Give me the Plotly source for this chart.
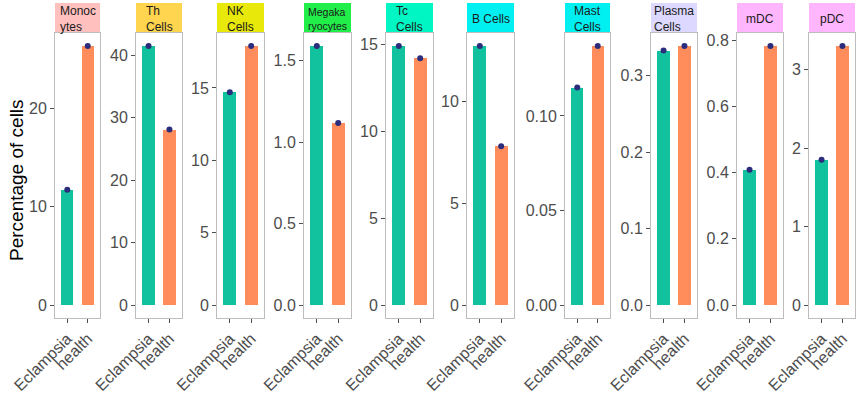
import plotly.graph_objects as go

# ---- data ----
cell_types = ["Monocytes", "Th Cells", "NK Cells", "Megakaryocytes", "Tc Cells",
              "B Cells", "Mast Cells", "Plasma Cells", "mDC", "pDC"]
strip_labels = ["Monoc<br>ytes", "Th<br>Cells", "NK<br>Cells", "Megaka<br>ryocytes", "Tc<br>Cells",
                "B Cells", "Mast<br>Cells", "Plasma<br>Cells", "mDC", "pDC"]
strip_colors = ["#FFC0BE", "#FFD54F", "#E8E80A", "#22EE4A", "#00F7C4",
                "#00F0F2", "#00F0F2", "#DCD8FF", "#FFB6FF", "#FFB6FF"]
groups = ["Eclampsia", "health"]
eclampsia = [11.7, 41.5, 14.7, 1.59, 14.9, 12.7, 0.115, 0.333, 0.409, 1.85]
health = [26.3, 28.1, 17.9, 1.117, 14.2, 7.78, 0.137, 0.339, 0.783, 3.30]
tick_vals = [[0, 10, 20], [0, 10, 20, 30, 40], [0, 5, 10, 15], [0, 0.5, 1.0, 1.5],
             [0, 5, 10, 15], [0, 5, 10], [0, 0.05, 0.10], [0, 0.1, 0.2, 0.3],
             [0, 0.2, 0.4, 0.6, 0.8], [0, 1, 2, 3]]
tick_text = [["0", "10", "20"], ["0", "10", "20", "30", "40"], ["0", "5", "10", "15"],
             ["0.0", "0.5", "1.0", "1.5"], ["0", "5", "10", "15"], ["0", "5", "10"],
             ["0.00", "0.05", "0.10"], ["0.0", "0.1", "0.2", "0.3"],
             ["0.0", "0.2", "0.4", "0.6", "0.8"], ["0", "1", "2", "3"]]

# ---- layout geometry (window pixels) ----
W, H = 858, 397
panel_px = [(55, 100), (136, 182), (217, 264), (304, 351), (386, 433),
            (467, 514), (565, 610), (651, 697), (737, 783), (809, 855)]
top_px, bot_px = 33, 318
strip_top = 3


def px_x(p):
    return p / W


def px_y(p):
    return 1 - p / H


bar_colors = ["#12C29E", "#FF8C5B"]
dot_color = "#2B2C7C"
font_fam = "Liberation Sans, Arial, sans-serif"

fig = go.Figure()
layout = dict(width=W, height=H, margin=dict(l=0, r=0, t=0, b=0, pad=0, autoexpand=False),
              paper_bgcolor="white", plot_bgcolor="white", showlegend=False,
              font=dict(family=font_fam), bargap=0)
shapes, annotations = [], []

for i, name in enumerate(cell_types):
    k = "" if i == 0 else str(i + 1)
    vals = [eclampsia[i], health[i]]
    M = max(vals)
    fig.add_trace(go.Bar(x=groups, y=vals, marker=dict(color=bar_colors, line=dict(width=0)),
                         width=0.6, xaxis="x" + k, yaxis="y" + k, hoverinfo="x+y"))
    fig.add_trace(go.Scatter(x=groups, y=vals, mode="markers",
                             marker=dict(color=dot_color, size=6),
                             xaxis="x" + k, yaxis="y" + k))
    x0, x1 = panel_px[i]
    layout["xaxis" + k] = dict(domain=[px_x(x0), px_x(x1)], anchor="y" + k, automargin=False,
                               range=[-0.6, 1.6], showgrid=False, zeroline=False,
                               showline=True, mirror=True, linecolor="#BDBDBD", linewidth=1,
                               ticks="outside", ticklen=4, tickcolor="#4D4D4D",
                               tickangle=-45, tickfont=dict(size=16, color="#4D4D4D"),
                               fixedrange=True)
    layout["yaxis" + k] = dict(domain=[px_y(bot_px), px_y(top_px)], anchor="x" + k,
                               automargin=False,
                               range=[-0.05 * M, 1.05 * M], showgrid=False, zeroline=False,
                               showline=True, mirror=True, linecolor="#BDBDBD", linewidth=1,
                               ticks="outside", ticklen=4, tickcolor="#4D4D4D",
                               tickvals=tick_vals[i], ticktext=tick_text[i],
                               tickfont=dict(size=16, color="#4D4D4D"), fixedrange=True)
    shapes.append(dict(type="rect", xref="paper", yref="paper",
                       x0=px_x(x0), x1=px_x(x1), y0=px_y(top_px), y1=px_y(strip_top),
                       fillcolor=strip_colors[i], line=dict(width=0), layer="below"))
    annotations.append(dict(text=strip_labels[i], xref="paper", yref="paper",
                            x=px_x((x0 + x1) / 2), y=px_y(18.5),
                            xanchor="center", yanchor="middle", align="left",
                            showarrow=False, borderpad=0,
                            font=dict(size=10.5 if name == "Megakaryocytes" else 12,
                                      color="#1A1A1A", family=font_fam)))

annotations.append(dict(text="Percentage of cells", xref="paper", yref="paper",
                        x=px_x(16), y=px_y(180), textangle=-90, showarrow=False,
                        xanchor="center", yanchor="middle",
                        font=dict(size=19, color="black", family=font_fam)))
layout["shapes"] = shapes
layout["annotations"] = annotations
fig.update_layout(**layout)
fig.write_html("out.html", config={"displayModeBar": False, "staticPlot": True},
               post_script="document.body.style.margin='0';document.body.style.overflow='hidden';")
